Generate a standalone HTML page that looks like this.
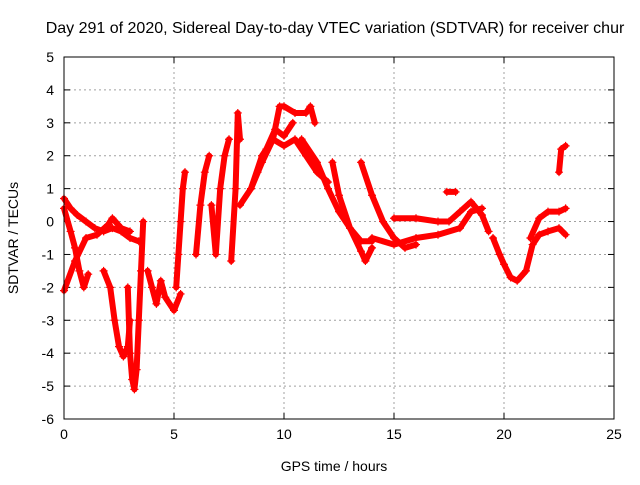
<!DOCTYPE html>
<html><head><meta charset="utf-8"><style>
body{margin:0;background:#fff}
svg text{font-family:"Liberation Sans",sans-serif;font-size:14px;fill:#000}
</style></head><body>
<svg id="c" width="640" height="480"></svg>
<script>
const xTicks=[0,5,10,15,20,25];
const yTicks=[-6,-5,-4,-3,-2,-1,0,1,2,3,4,5];
const tracksTime=[
[0,0.3,0.6,1,1.4,1.8,2.2,2.6,3,3.4],
[0,0.3,0.5,0.7,0.9,1.1],
[0,0.5,1,1.5,2,2.2,2.6,3],
[1.8,2.1,2.3,2.5,2.7,2.9,3.0],
[2.9,3.0,3.1,3.2,3.3,3.4,3.5,3.6],
[3.8,4.0,4.2,4.4,4.6,5,5.3],
[5.1,5.2,5.3,5.4,5.5],
[6.0,6.2,6.4,6.6],
[6.7,6.9,7.1,7.3,7.5],
[7.6,7.8,7.9,8.0],
[8,8.5,9,9.5,9.8,10,10.5,11,11.2,11.4],
[8.5,9,9.5,10,10.5,11,11.5,12],
[8.8,9.2,9.6,10,10.4],
[10.8,11.5,12,12.5,13,13.5,14],
[12.2,12.5,13,13.5,13.7,14],
[13.5,14,14.5,15,15.5,16],
[14,15,16,17,18,18.5,19],
[15,16,17,17.5,18,18.5,19,19.3],
[17.4,17.8],
[19.5,19.8,20,20.3,20.6,21,21.3,21.6,22,22.5,22.8],
[21.2,21.6,22,22.5,22.8],
[22.5,22.6,22.8]
];
const tracksValue=[
[0.7,0.4,0.2,0,-0.2,-0.3,-0.2,-0.3,-0.5,-0.6],
[0.4,-0.3,-0.8,-1.5,-2.0,-1.6],
[-2.1,-1.2,-0.5,-0.4,-0.1,0.1,-0.2,-0.3],
[-1.5,-2,-3,-3.8,-4.1,-3.8,-3.0],
[-2.0,-4.0,-4.8,-5.1,-4.5,-3.0,-1.5,0],
[-1.5,-2,-2.5,-1.8,-2.3,-2.7,-2.2],
[-2,-1,0,1,1.5],
[-1,0.5,1.5,2],
[0.5,-1,1,2,2.5],
[-1.2,1,3.3,2.5],
[0.5,1,1.8,2.5,3.5,3.5,3.3,3.3,3.5,3],
[1,2,2.5,2.3,2.5,2,1.5,1.2],
[1.5,2.2,2.8,2.6,3.0],
[2.5,1.8,1.0,0.3,-0.2,-0.6,-0.6],
[1.8,0.8,-0.2,-0.9,-1.2,-0.8],
[1.8,0.8,0,-0.5,-0.8,-0.7],
[-0.5,-0.7,-0.5,-0.4,-0.2,0.3,0.4],
[0.1,0.1,0,0,0.3,0.6,0.2,-0.3],
[0.9,0.9],
[-0.5,-1,-1.3,-1.7,-1.8,-1.5,-0.7,-0.4,-0.3,-0.2,-0.4],
[-0.5,0.1,0.3,0.3,0.4],
[1.5,2.2,2.3]
];
const L=64,R=614,T=57,B=419;
const sx=t=>L+(t-0)/25*(R-L);
const sy=v=>B-(v+6)/11*(B-T);
const NS='http://www.w3.org/2000/svg';
const svg=document.getElementById('c');
function mk(tag,attrs,parent){const e=document.createElementNS(NS,tag);for(const k in attrs)e.setAttribute(k,attrs[k]);(parent||svg).appendChild(e);return e;}
xTicks.forEach(t=>{
  if(t>0&&t<25){const g=mk('line',{x1:sx(t),x2:sx(t),y1:T,y2:B,stroke:'#a0a0a0','stroke-dasharray':'2,3'});
  
  }
  const tk=mk('line',{x1:sx(t),x2:sx(t),y1:B,y2:B-6,stroke:'#000'});
  
  
  const tk2=mk('line',{x1:sx(t),x2:sx(t),y1:T,y2:T+6,stroke:'#000'});
  
  
  const tx=mk('text',{x:sx(t),y:B+20,'text-anchor':'middle'});tx.textContent=t;
  
  
});
yTicks.forEach(v=>{
  if(v>-6&&v<5){const g=mk('line',{x1:L,x2:R,y1:sy(v),y2:sy(v),stroke:'#a0a0a0','stroke-dasharray':'2,3'});
  
  }
  const tk=mk('line',{x1:L,x2:L+6,y1:sy(v),y2:sy(v),stroke:'#000'});
  
  
  const tk2=mk('line',{x1:R,x2:R-6,y1:sy(v),y2:sy(v),stroke:'#000'});
  
  
  const tx=mk('text',{x:L-10,y:sy(v)+5,'text-anchor':'end'});tx.textContent=v;
  
  
});
const g=mk('g',{});


tracksTime.forEach((ts,i)=>{
  const vs=tracksValue[i];
  const pts=ts.map((t,j)=>sx(t)+','+sy(vs[j])).join(' ');
  const pl=mk('polyline',{points:pts,fill:'none',stroke:'#ff0000','stroke-width':6,'stroke-linejoin':'round','stroke-linecap':'round'},g);
  
  
  ts.forEach((t,j)=>{
    const x=sx(t),y=sy(vs[j]);
    const p=mk('path',{d:`M${x-4},${y}H${x+4}M${x},${y-4}V${y+4}`,stroke:'#ff0000','stroke-width':1.2},g);
    
    
  });
});
const fr=mk('rect',{x:L,y:T,width:R-L,height:B-T,fill:'none',stroke:'#000'});


const ti=mk('text',{x:335,y:33,'text-anchor':'middle','font-size':'16px',style:'font-size:16px'});ti.textContent='Day 291 of 2020, Sidereal Day-to-day VTEC variation (SDTVAR) for receiver chur';


const xl=mk('text',{x:334,y:471,'text-anchor':'middle'});xl.textContent='GPS time / hours';


const yl=mk('text',{x:18,y:238,'text-anchor':'middle',transform:'rotate(-90 18 238)'});yl.textContent='SDTVAR / TECUs';


</script>
</body></html>
